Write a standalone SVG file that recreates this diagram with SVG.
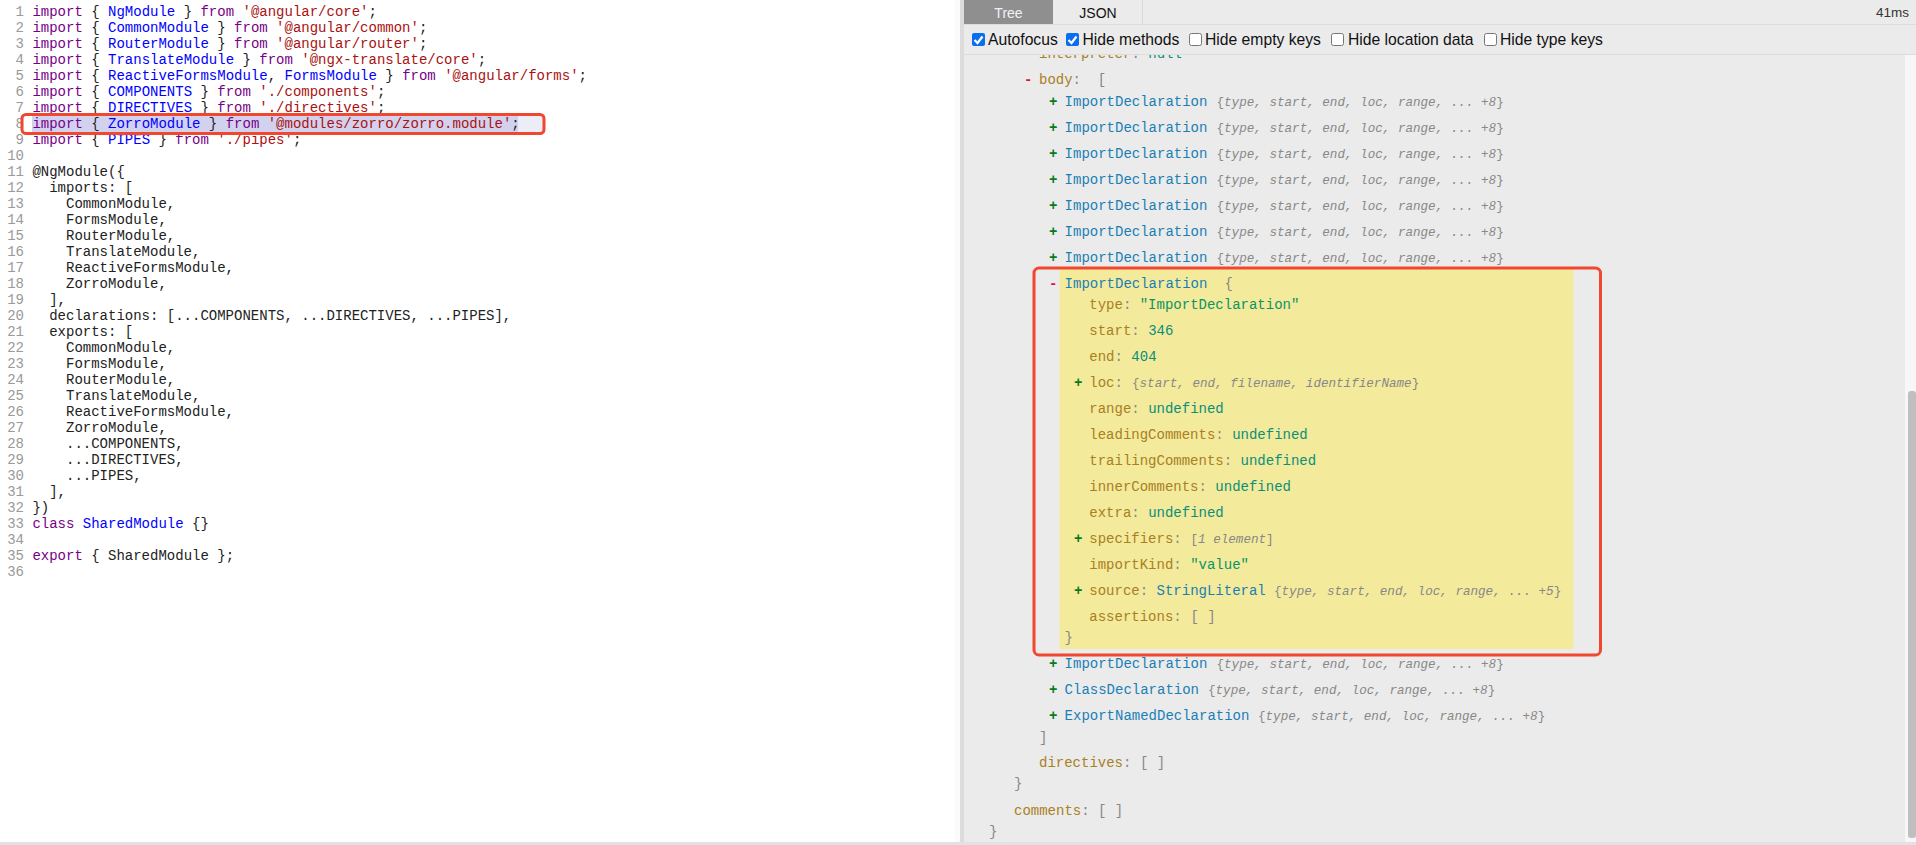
<svg xmlns="http://www.w3.org/2000/svg" width="1916" height="845" viewBox="0 0 1916 845">
<style>
text{font-family:"Liberation Mono",monospace;font-size:14px;white-space:pre}
.n{fill:#999;text-anchor:end}
.c{fill:#222}
.k{fill:#708}
.d{fill:#00f}
.s{fill:#a11}
.key{fill:#a8801f}
.p{fill:#888}
.t{fill:#1a7fb5}
.v{fill:#0a8f78}
.str{fill:#0c9463}
.sum{fill:#888;font-size:12.6px}
.sum tspan{font-style:italic}
.pl{fill:#0a7a1a;font-weight:bold}
.mi{fill:#e0103f;font-weight:bold}
.ui{font-family:"Liberation Sans",Arial,sans-serif;font-size:15.7px;fill:#111}
.box{fill:#fff;stroke:#777;stroke-width:1}
.on{fill:#0a6ef0}
.chk{fill:none;stroke:#fff;stroke-width:2.2}
.red{fill:none;stroke:#f0472e;stroke-width:3}
</style>
<rect width="1916" height="845" fill="#fff"/>

<g id="editor">
<rect x="32" y="115" width="486" height="17" fill="#d2d2ee"/>
<rect x="518" y="115" width="26" height="17" fill="#ededf8"/>
<g id="line-numbers">
<text class="n" x="24" y="16">1</text><text class="n" x="24" y="32">2</text><text class="n" x="24" y="48">3</text><text class="n" x="24" y="64">4</text><text class="n" x="24" y="80">5</text><text class="n" x="24" y="96">6</text><text class="n" x="24" y="112">7</text><text class="n" x="24" y="128">8</text><text class="n" x="24" y="144">9</text><text class="n" x="24" y="160">10</text><text class="n" x="24" y="176">11</text><text class="n" x="24" y="192">12</text><text class="n" x="24" y="208">13</text><text class="n" x="24" y="224">14</text><text class="n" x="24" y="240">15</text><text class="n" x="24" y="256">16</text><text class="n" x="24" y="272">17</text><text class="n" x="24" y="288">18</text><text class="n" x="24" y="304">19</text><text class="n" x="24" y="320">20</text><text class="n" x="24" y="336">21</text><text class="n" x="24" y="352">22</text><text class="n" x="24" y="368">23</text><text class="n" x="24" y="384">24</text><text class="n" x="24" y="400">25</text><text class="n" x="24" y="416">26</text><text class="n" x="24" y="432">27</text><text class="n" x="24" y="448">28</text><text class="n" x="24" y="464">29</text><text class="n" x="24" y="480">30</text><text class="n" x="24" y="496">31</text><text class="n" x="24" y="512">32</text><text class="n" x="24" y="528">33</text><text class="n" x="24" y="544">34</text><text class="n" x="24" y="560">35</text><text class="n" x="24" y="576">36</text>
</g>
<g id="code">
<text class="c" x="32.4" y="16"><tspan class="k">import</tspan> { <tspan class="d">NgModule</tspan> } <tspan class="k">from</tspan> <tspan class="s">'@angular/core'</tspan>;</text>
<text class="c" x="32.4" y="32"><tspan class="k">import</tspan> { <tspan class="d">CommonModule</tspan> } <tspan class="k">from</tspan> <tspan class="s">'@angular/common'</tspan>;</text>
<text class="c" x="32.4" y="48"><tspan class="k">import</tspan> { <tspan class="d">RouterModule</tspan> } <tspan class="k">from</tspan> <tspan class="s">'@angular/router'</tspan>;</text>
<text class="c" x="32.4" y="64"><tspan class="k">import</tspan> { <tspan class="d">TranslateModule</tspan> } <tspan class="k">from</tspan> <tspan class="s">'@ngx-translate/core'</tspan>;</text>
<text class="c" x="32.4" y="80"><tspan class="k">import</tspan> { <tspan class="d">ReactiveFormsModule</tspan>, <tspan class="d">FormsModule</tspan> } <tspan class="k">from</tspan> <tspan class="s">'@angular/forms'</tspan>;</text>
<text class="c" x="32.4" y="96"><tspan class="k">import</tspan> { <tspan class="d">COMPONENTS</tspan> } <tspan class="k">from</tspan> <tspan class="s">'./components'</tspan>;</text>
<text class="c" x="32.4" y="112"><tspan class="k">import</tspan> { <tspan class="d">DIRECTIVES</tspan> } <tspan class="k">from</tspan> <tspan class="s">'./directives'</tspan>;</text>
<text class="c" x="32.4" y="128"><tspan class="k">import</tspan> { <tspan class="d">ZorroModule</tspan> } <tspan class="k">from</tspan> <tspan class="s">'@modules/zorro/zorro.module'</tspan>;</text>
<text class="c" x="32.4" y="144"><tspan class="k">import</tspan> { <tspan class="d">PIPES</tspan> } <tspan class="k">from</tspan> <tspan class="s">'./pipes'</tspan>;</text>
<text class="c" x="32.4" y="176">@NgModule({</text>
<text class="c" x="32.4" y="192">  imports: [</text>
<text class="c" x="32.4" y="208">    CommonModule,</text>
<text class="c" x="32.4" y="224">    FormsModule,</text>
<text class="c" x="32.4" y="240">    RouterModule,</text>
<text class="c" x="32.4" y="256">    TranslateModule,</text>
<text class="c" x="32.4" y="272">    ReactiveFormsModule,</text>
<text class="c" x="32.4" y="288">    ZorroModule,</text>
<text class="c" x="32.4" y="304">  ],</text>
<text class="c" x="32.4" y="320">  declarations: [...COMPONENTS, ...DIRECTIVES, ...PIPES],</text>
<text class="c" x="32.4" y="336">  exports: [</text>
<text class="c" x="32.4" y="352">    CommonModule,</text>
<text class="c" x="32.4" y="368">    FormsModule,</text>
<text class="c" x="32.4" y="384">    RouterModule,</text>
<text class="c" x="32.4" y="400">    TranslateModule,</text>
<text class="c" x="32.4" y="416">    ReactiveFormsModule,</text>
<text class="c" x="32.4" y="432">    ZorroModule,</text>
<text class="c" x="32.4" y="448">    ...COMPONENTS,</text>
<text class="c" x="32.4" y="464">    ...DIRECTIVES,</text>
<text class="c" x="32.4" y="480">    ...PIPES,</text>
<text class="c" x="32.4" y="496">  ],</text>
<text class="c" x="32.4" y="512">})</text>
<text class="c" x="32.4" y="528"><tspan class="k">class</tspan> <tspan class="d">SharedModule</tspan> {}</text>
<text class="c" x="32.4" y="560"><tspan class="k">export</tspan> { SharedModule };</text>
</g>
</g>

<g id="tree-panel">
<rect x="955" y="0" width="5" height="845" fill="#fafafa"/>
<rect x="960" y="0" width="4" height="845" fill="#dcdcdc"/>
<rect x="964" y="0" width="941" height="843" fill="#ebebeb"/>
<rect x="0" y="842" width="1916" height="3" fill="#e2e2e2"/>
<rect x="1905" y="54" width="11" height="788" fill="#f7f7f7"/>
<rect x="1908" y="391" width="8" height="447" rx="3" fill="#bfbfbf"/>

<text class="key" x="1039" y="58">interpreter<tspan class="p">:</tspan> <tspan class="v">null</tspan></text>
<text class="mi" x="1024" y="84">-</text>
<text class="key" x="1039" y="84">body<tspan class="p">:  [</tspan></text>

<g id="collapsed-imports">
<text class="pl" x="1049" y="106">+</text><text class="t" x="1064.6" y="106">ImportDeclaration</text><text class="sum" x="1216.5" y="106">{<tspan>type, start, end, loc, range, ... +8</tspan>}</text>
<text class="pl" x="1049" y="132">+</text><text class="t" x="1064.6" y="132">ImportDeclaration</text><text class="sum" x="1216.5" y="132">{<tspan>type, start, end, loc, range, ... +8</tspan>}</text>
<text class="pl" x="1049" y="158">+</text><text class="t" x="1064.6" y="158">ImportDeclaration</text><text class="sum" x="1216.5" y="158">{<tspan>type, start, end, loc, range, ... +8</tspan>}</text>
<text class="pl" x="1049" y="184">+</text><text class="t" x="1064.6" y="184">ImportDeclaration</text><text class="sum" x="1216.5" y="184">{<tspan>type, start, end, loc, range, ... +8</tspan>}</text>
<text class="pl" x="1049" y="210">+</text><text class="t" x="1064.6" y="210">ImportDeclaration</text><text class="sum" x="1216.5" y="210">{<tspan>type, start, end, loc, range, ... +8</tspan>}</text>
<text class="pl" x="1049" y="236">+</text><text class="t" x="1064.6" y="236">ImportDeclaration</text><text class="sum" x="1216.5" y="236">{<tspan>type, start, end, loc, range, ... +8</tspan>}</text>
<text class="pl" x="1049" y="262">+</text><text class="t" x="1064.6" y="262">ImportDeclaration</text><text class="sum" x="1216.5" y="262">{<tspan>type, start, end, loc, range, ... +8</tspan>}</text>
</g>

<g id="expanded-import">
<rect x="1059.5" y="269" width="514" height="380" fill="#f3ea9c"/>
<text class="mi" x="1049" y="288">-</text><text class="t" x="1064.6" y="288">ImportDeclaration</text><text class="p" x="1224.6" y="288">{</text>
<text class="key" x="1089.3" y="309">type<tspan class="p">:</tspan> <tspan class="str">"ImportDeclaration"</tspan></text>
<text class="key" x="1089.3" y="335">start<tspan class="p">:</tspan> <tspan class="v">346</tspan></text>
<text class="key" x="1089.3" y="361">end<tspan class="p">:</tspan> <tspan class="v">404</tspan></text>
<text class="pl" x="1074" y="387">+</text><text class="key" x="1089.3" y="387">loc<tspan class="p">:</tspan></text><text class="sum" x="1132" y="387">{<tspan>start, end, filename, identifierName</tspan>}</text>
<text class="key" x="1089.3" y="413">range<tspan class="p">:</tspan> <tspan class="v">undefined</tspan></text>
<text class="key" x="1089.3" y="439">leadingComments<tspan class="p">:</tspan> <tspan class="v">undefined</tspan></text>
<text class="key" x="1089.3" y="465">trailingComments<tspan class="p">:</tspan> <tspan class="v">undefined</tspan></text>
<text class="key" x="1089.3" y="491">innerComments<tspan class="p">:</tspan> <tspan class="v">undefined</tspan></text>
<text class="key" x="1089.3" y="517">extra<tspan class="p">:</tspan> <tspan class="v">undefined</tspan></text>
<text class="pl" x="1074" y="543">+</text><text class="key" x="1089.3" y="543">specifiers<tspan class="p">:</tspan></text><text class="sum" x="1190.5" y="543">[<tspan>1 element</tspan>]</text>
<text class="key" x="1089.3" y="569">importKind<tspan class="p">:</tspan> <tspan class="str">"value"</tspan></text>
<text class="pl" x="1074" y="595">+</text><text class="key" x="1089.3" y="595">source<tspan class="p">:</tspan> <tspan class="t">StringLiteral</tspan></text><text class="sum" x="1274" y="595">{<tspan>type, start, end, loc, range, ... +5</tspan>}</text>
<text class="key" x="1089.3" y="621">assertions<tspan class="p">:</tspan></text><text class="p" x="1190.5" y="621">[ ]</text>
<text class="p" x="1064.6" y="642">}</text>
</g>

<g id="trailing-nodes">
<text class="pl" x="1049" y="668">+</text><text class="t" x="1064.6" y="668">ImportDeclaration</text><text class="sum" x="1216.5" y="668">{<tspan>type, start, end, loc, range, ... +8</tspan>}</text>
<text class="pl" x="1049" y="694">+</text><text class="t" x="1064.6" y="694">ClassDeclaration</text><text class="sum" x="1208" y="694">{<tspan>type, start, end, loc, range, ... +8</tspan>}</text>
<text class="pl" x="1049" y="720">+</text><text class="t" x="1064.6" y="720">ExportNamedDeclaration</text><text class="sum" x="1258" y="720">{<tspan>type, start, end, loc, range, ... +8</tspan>}</text>
<text class="p" x="1039" y="742">]</text>
<text class="key" x="1039" y="767">directives<tspan class="p">:</tspan></text><text class="p" x="1140" y="767">[ ]</text>
<text class="p" x="1014" y="788">}</text>
<text class="key" x="1014" y="815">comments<tspan class="p">:</tspan></text><text class="p" x="1098" y="815">[ ]</text>
<text class="p" x="989" y="836">}</text>
</g>

<g id="toolbar">
<rect x="964" y="0" width="952" height="54" fill="#ebebeb"/>
<rect x="964" y="24" width="952" height="1" fill="#dcdcdc"/>
<rect x="964" y="54" width="952" height="1" fill="#dcdcdc"/>
<rect x="964" y="0" width="89" height="24" fill="#8f8f8f"/>
<rect x="1142" y="0" width="1" height="24" fill="#d8d8d8"/>
<text class="ui" x="1008.5" y="18" text-anchor="middle" style="font-size:14px;fill:#f2f2f2">Tree</text>
<text class="ui" x="1098" y="18" text-anchor="middle" style="font-size:14px">JSON</text>
<text class="ui" x="1909" y="17" text-anchor="end" style="font-size:13.5px;fill:#333">41ms</text>
<rect class="on" x="972" y="33" width="13" height="13" rx="2"/><path class="chk" d="M974.5 40l3 3 5-6.5"/>
<text class="ui" x="988" y="45">Autofocus</text>
<rect class="on" x="1066" y="33" width="13" height="13" rx="2"/><path class="chk" d="M1068.5 40l3 3 5-6.5"/>
<text class="ui" x="1082.5" y="45">Hide methods</text>
<rect class="box" x="1189.5" y="33.5" width="12" height="12" rx="2"/>
<text class="ui" x="1205" y="45">Hide empty keys</text>
<rect class="box" x="1331.5" y="33.5" width="12" height="12" rx="2"/>
<text class="ui" x="1348" y="45">Hide location data</text>
<rect class="box" x="1484.5" y="33.5" width="12" height="12" rx="2"/>
<text class="ui" x="1500" y="45">Hide type keys</text>
</g>
</g>

<g id="annotations">
<rect class="red" x="22" y="114.5" width="522" height="19" rx="4"/>
<rect class="red" x="1034" y="268" width="566.5" height="387" rx="5"/>
</g>
</svg>
